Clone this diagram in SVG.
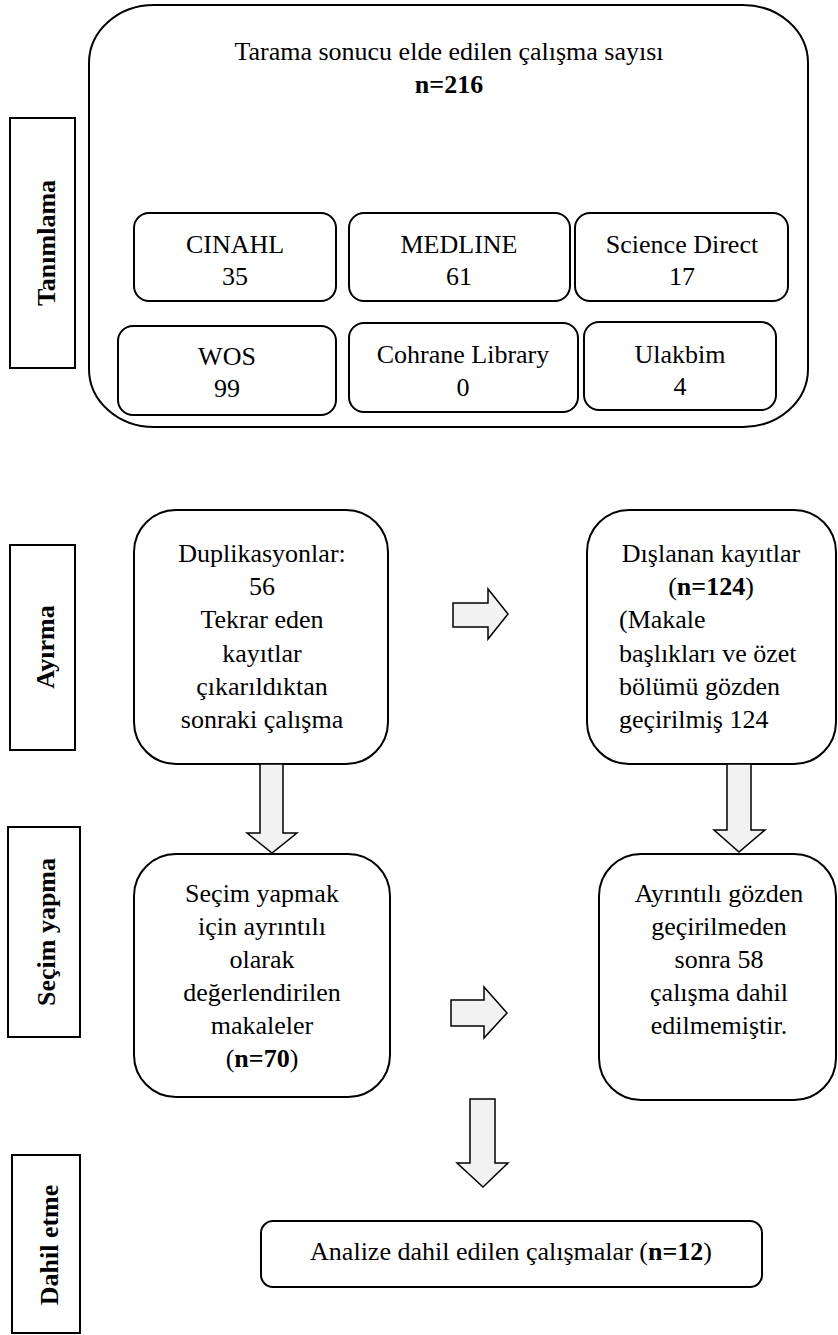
<svg xmlns="http://www.w3.org/2000/svg" width="838" height="1335" viewBox="0 0 838 1335">
<style>
.box{fill:#fff;stroke:#000;stroke-width:2}
.arr{fill:#f2f2f2;stroke:#000;stroke-width:1.5}
.t{font-family:"Liberation Serif","Times New Roman",serif;font-size:26px;text-anchor:middle;fill:#000}
.l{text-anchor:start}
.b{font-weight:bold}
</style>
<rect width="838" height="1335" fill="#fff"/>
<g id="lbl-tanimlama"><rect class="box" x="10" y="118" width="65" height="250"/><text class="t b" transform="translate(55,243) rotate(-90)">Tanımlama</text></g>
<g id="lbl-ayirma"><rect class="box" x="10" y="545" width="65" height="205"/><text class="t b" transform="translate(54,647) rotate(-90)">Ayırma</text></g>
<g id="lbl-secim"><rect class="box" x="8" y="827" width="72" height="210"/><text class="t b" transform="translate(55,932) rotate(-90)">Seçim yapma</text></g>
<g id="lbl-dahil"><rect class="box" x="12" y="1155" width="68" height="178"/><text class="t b" transform="translate(58,1245) rotate(-90)">Dahil etme</text></g>
<g id="outer"><rect class="box" x="89" y="5" width="719" height="422" rx="65" ry="58"/>
<text class="t" x="449" y="60">Tarama sonucu elde edilen çalışma sayısı</text>
<text class="t b" x="449" y="93">n=216</text></g>
<g id="cinahl"><rect class="box" x="134" y="213" width="202" height="88" rx="15"/><text class="t" x="235" y="253">CINAHL</text><text class="t" x="235" y="285">35</text></g>
<g id="medline"><rect class="box" x="349" y="213" width="221" height="88" rx="15"/><text class="t" x="459" y="253">MEDLINE</text><text class="t" x="459" y="285">61</text></g>
<g id="sciencedirect"><rect class="box" x="575" y="213" width="213" height="88" rx="15"/><text class="t" x="682" y="253">Science Direct</text><text class="t" x="682" y="285">17</text></g>
<g id="wos"><rect class="box" x="118" y="326" width="218" height="89" rx="15"/><text class="t" x="227" y="365">WOS</text><text class="t" x="227" y="397">99</text></g>
<g id="cohrane"><rect class="box" x="349" y="323" width="229" height="89" rx="15"/><text class="t" x="463" y="363">Cohrane Library</text><text class="t" x="463" y="396">0</text></g>
<g id="ulakbim"><rect class="box" x="584" y="322" width="192" height="88" rx="15"/><text class="t" x="680" y="363">Ulakbim</text><text class="t" x="680" y="395">4</text></g>
<g id="duplikasyon"><rect class="box" x="134" y="510" width="254" height="254" rx="42"/>
<text class="t" x="262" y="562">Duplikasyonlar:</text><text class="t" x="262" y="595">56</text><text class="t" x="262" y="628">Tekrar eden</text><text class="t" x="262" y="662">kayıtlar</text><text class="t" x="262" y="695">çıkarıldıktan</text><text class="t" x="262" y="728">sonraki çalışma</text></g>
<g id="dislanan"><rect class="box" x="587" y="510" width="249" height="254" rx="42"/>
<text class="t" x="711" y="562">Dışlanan kayıtlar</text><text class="t" x="711" y="595">(<tspan class="b">n=124</tspan>)</text>
<text class="t l" x="619" y="628">(Makale</text><text class="t l" x="619" y="662">başlıkları ve özet</text><text class="t l" x="619" y="695">bölümü gözden</text><text class="t l" x="619" y="728">geçirilmiş 124</text></g>
<g id="secim"><rect class="box" x="134" y="854" width="256" height="243" rx="42"/>
<text class="t" x="262" y="902">Seçim yapmak</text><text class="t" x="262" y="935">için ayrıntılı</text><text class="t" x="262" y="968">olarak</text><text class="t" x="262" y="1001">değerlendirilen</text><text class="t" x="262" y="1034">makaleler</text><text class="t" x="262" y="1067">(<tspan class="b">n=70</tspan>)</text></g>
<g id="ayrintili"><rect class="box" x="599" y="854" width="237" height="246" rx="42"/>
<text class="t" x="719" y="902">Ayrıntılı gözden</text><text class="t" x="719" y="935">geçirilmeden</text><text class="t" x="719" y="968">sonra 58</text><text class="t" x="719" y="1001">çalışma dahil</text><text class="t" x="719" y="1034">edilmemiştir.</text></g>
<g id="analize"><rect class="box" x="261" y="1221" width="501" height="66" rx="12"/><text class="t" x="511" y="1260">Analize dahil edilen çalışmalar (<tspan class="b">n=12</tspan>)</text></g>
<g id="connectors">
<path class="arr" d="M453,603 H488 V589 L508,614 L488,639 V627 H453 Z"/>
<path class="arr" d="M451,1000 H484 V987 L507,1013 L484,1038 V1026 H451 Z"/>
<path class="arr" d="M260,764 H283 V833 H297 L272,853 L247,833 H260 Z"/>
<path class="arr" d="M727,764 H751 V830 H765 L739,852 L714,830 H727 Z"/>
<path class="arr" d="M470,1099 H495 V1163 H508 L483,1187 L457,1163 H470 Z"/>
</g>
</svg>
